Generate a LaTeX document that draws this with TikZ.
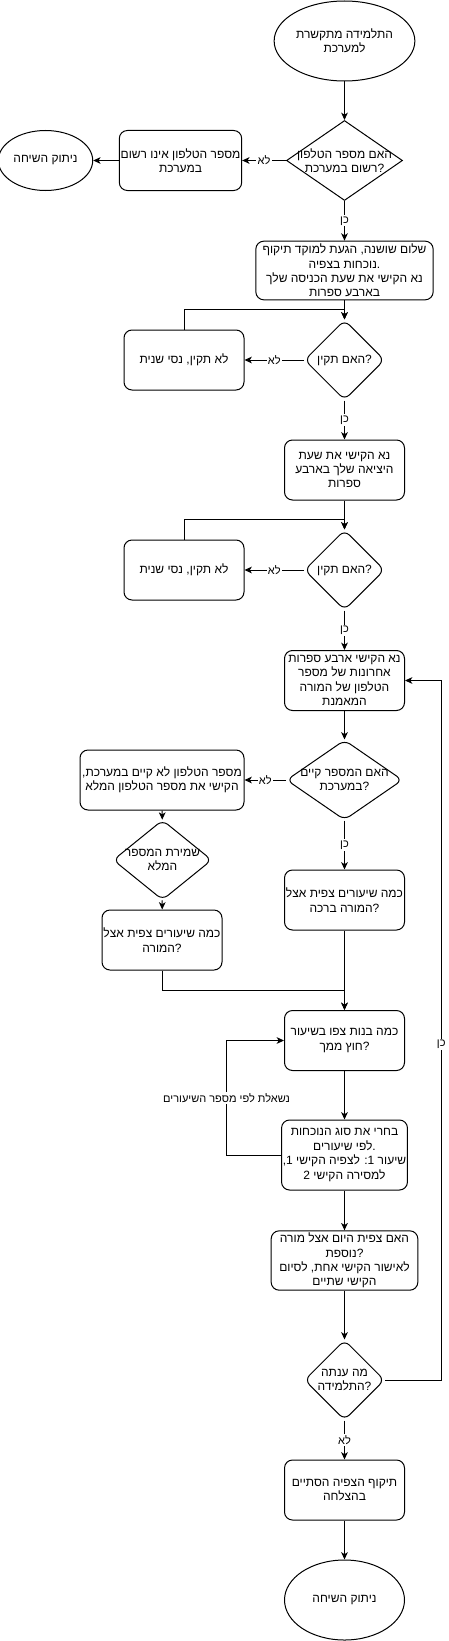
\documentclass[tikz,border=0pt]{standalone}
\usepackage{fontspec}
\setmainfont[Script=Hebrew]{Liberation Sans}
\usetikzlibrary{shapes.geometric,arrows.meta}
\TeXXeTstate=1

\begin{document}
\begin{tikzpicture}[>={Stealth[length=5.5pt,width=5pt,inset=1.5pt]},x=0.75pt,y=-0.75pt,line width=0.75pt,
	font=\fontsize{9}{10.8}\selectfont,
	box/.style={draw,rounded corners=6pt,align=center,inner sep=1pt,minimum width=90pt,minimum height=45pt},
	term/.style={draw,ellipse,align=center,inner sep=1pt,minimum width=90pt,minimum height=60pt},
	ask/.style={draw,diamond,inner sep=0pt,rounded corners=5pt,minimum width=60pt,minimum height=60pt},
	asktxt/.style={align=center,inner sep=0pt},
	lbl/.style={fill=white,inner sep=1pt,font=\fontsize{8.25}{9.9}\selectfont}]
	\useasboundingbox (0,0) rectangle (449,1641);
	% column on the right
	\node[term] (start) at (344.5,41) {\beginR התלמידה מתקשרת\endR\\\beginR למערכת\endR};
	\node[ask,sharp corners,minimum width=87pt] (q1) at (344.5,160.5) {};
	\node[asktxt] (q1t) at (q1) {\beginR האם מספר הטלפון\endR\\\beginR רשום במערכת\endR?};
	\node[box] (reg) at (180.5,160.5) {\beginR מספר הטלפון אינו רשום\endR\\\beginR במערכת\endR};
	\node[term,minimum width=68pt,minimum height=45pt] (endL) at (45.5,160.5) {\beginR ניתוק השיחה\endR};
	\node[box,minimum width=133pt,minimum height=44pt] (welcome) at (344.5,270.5) {\beginR שלום שושנה\kern0pt, הגעת למוקד תיקוף\endR\\\beginR נוכחות בצפיה\endR.\\\beginR נא הקישי את שעת הכניסה שלך\endR\\\beginR בארבע ספרות\endR};
	\node[ask] (q2) at (344.5,360) {};
	\node[asktxt] (q2t) at (q2) {\beginR האם תקין\endR?};
	\node[box] (bad1) at (184,360) {\beginR לא תקין\kern0pt, נסי שנית\endR};
	\node[box] (exit) at (344.5,470) {\beginR נא הקישי את שעת\endR\\\beginR היציאה שלך בארבע\endR\\\beginR ספרות\endR};
	\node[ask] (q3) at (344.5,570) {};
	\node[asktxt] (q3t) at (q3) {\beginR האם תקין\endR?};
	\node[box] (bad2) at (184,570) {\beginR לא תקין\kern0pt, נסי שנית\endR};
	\node[box] (digits) at (344.5,680.5) {\beginR נא הקישי ארבע ספרות\endR\\\beginR אחרונות של מספר\endR\\\beginR הטלפון של המורה\endR\\\beginR המאמנת\endR};
	\node[ask,minimum width=87pt] (q4) at (344.5,780) {};
	\node[asktxt] (q4t) at (q4) {\beginR האם המספר קיים\endR\\\beginR במערכת\endR?};
	\node[box,minimum width=123pt] (nophone) at (162,780) {\beginR מספר הטלפון לא קיים במערכת\kern0pt,\endR\\\beginR הקישי את מספר הטלפון המלא\endR};
	\node[ask,minimum width=74pt] (q5) at (162.5,860) {};
	\node[asktxt] (q5t) at (q5) {\beginR שמירת המספר\endR\\\beginR המלא\endR};
	\node[box] (teach2) at (162,940) {\beginR כמה שיעורים צפית אצל\endR\\\beginR המורה\endR?};
	\node[box] (bracha) at (344.5,900) {\beginR כמה שיעורים צפית אצל\endR\\\beginR המורה ברכה\endR?};
	\node[box] (girls) at (344.5,1040.5) {\beginR כמה בנות צפו בשיעור\endR\\\beginR חוץ ממך\endR?};
	\node[box,minimum height=52.5pt] (type) at (344.5,1155) {\beginR בחרי את סוג הנוכחות\endR\\\beginR לפי שיעורים\endR.\\\beginR שיעור 1\kern0pt: לצפיה הקישי 1\kern0pt,\endR\\\beginR למסירה הקישי 2\endR};
	\node[box,minimum width=110pt,minimum height=44.5pt] (more) at (344.5,1260.5) {\beginR האם צפית היום אצל מורה\endR\\\beginR נוספת\endR?\\\beginR לאישור הקישי אחת\kern0pt, לסיום\endR\\\beginR הקישי שתיים\endR};
	\node[ask] (q6) at (344.5,1380) {};
	\node[asktxt] (q6t) at (q6) {\beginR מה ענתה\endR\\\beginR התלמידה\endR?};
	\node[box] (done) at (344.5,1490) {\beginR תיקוף הצפיה הסתיים\endR\\\beginR בהצלחה\endR};
	\node[term] (endB) at (344.5,1600) {\beginR ניתוק השיחה\endR};
	% connectors
	\draw[->] (start) -- (q1);
	\draw[->] (q1) -- node[lbl]{\beginR לא\endR} (reg);
	\draw[->] (reg) -- (endL);
	\draw[->] (q1) -- node[lbl]{\beginR כן\endR} (welcome);
	\draw[->] (welcome) -- (q2);
	\draw[->] (q2) -- node[lbl]{\beginR לא\endR} (bad1);
	\draw[->] (bad1.north) -- ++(0,-20) -| (q2.north);
	\draw[->] (q2) -- node[lbl]{\beginR כן\endR} (exit);
	\draw[->] (exit) -- (q3);
	\draw[->] (q3) -- node[lbl]{\beginR לא\endR} (bad2);
	\draw[->] (bad2.north) -- ++(0,-20) -| (q3.north);
	\draw[->] (q3) -- node[lbl]{\beginR כן\endR} (digits);
	\draw[->] (digits) -- (q4);
	\draw[->] (q4) -- node[lbl]{\beginR לא\endR} (nophone);
	\draw[->] (q4) -- node[lbl]{\beginR כן\endR} (bracha);
	\draw[->] (nophone) -- (q5);
	\draw[->] (q5) -- (teach2);
	\draw[->] (teach2.south) -- ++(0,20) -| (girls.north);
	\draw[->] (bracha) -- (girls);
	\draw[->] (girls) -- (type);
	\draw[->] (type.west) -- ++(-54.5,0) |- node[lbl,pos=.25]{\beginR נשאלת לפי מספר השיעורים\endR} (girls.west);
	\draw[->] (type) -- (more);
	\draw[->] (more) -- (q6);
	\draw[->] (q6.east) -- ++(56.2,0) |- node[lbl,pos=.24]{\beginR כן\endR} (digits.east);
	\draw[->] (q6) -- node[lbl]{\beginR לא\endR} (done);
	\draw[->] (done) -- (endB);
\end{tikzpicture}
\end{document}
